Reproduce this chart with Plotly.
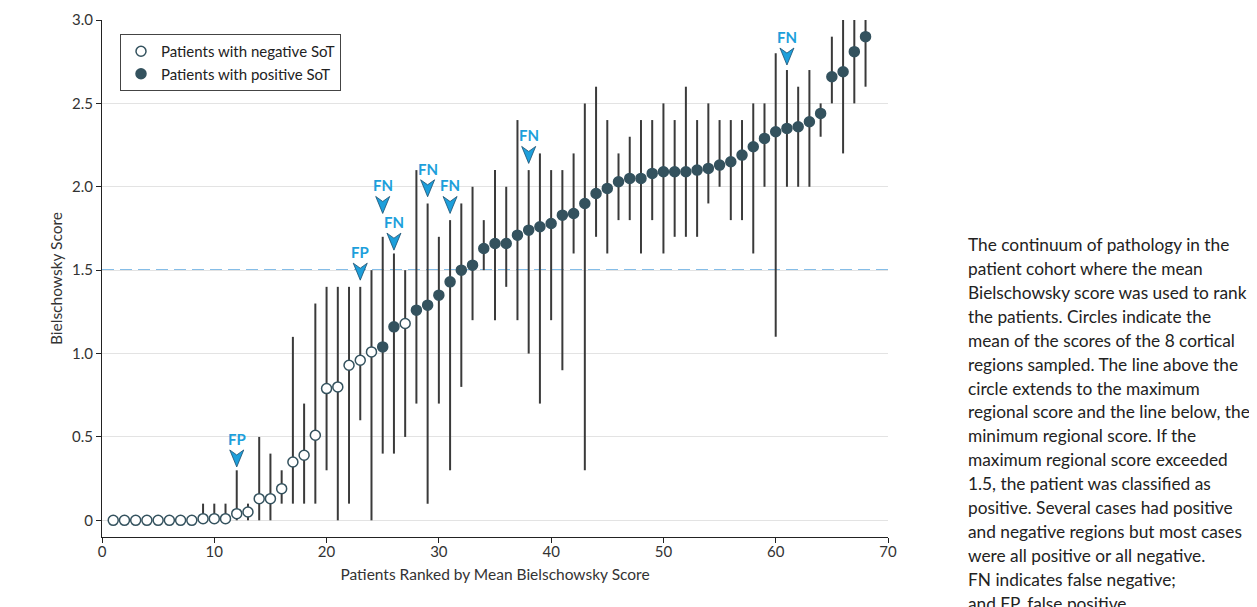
import plotly.graph_objects as go

# ---------------- data ----------------
patients = list(range(1, 69))
mean_score = [0, 0, 0, 0, 0, 0, 0, 0, 0.01, 0.01, 0.01, 0.04, 0.05, 0.13, 0.13, 0.19, 0.35, 0.39, 0.51, 0.79,
              0.80, 0.93, 0.96, 1.01, 1.04, 1.16, 1.18, 1.26, 1.29, 1.35,
              1.43, 1.50, 1.53, 1.63, 1.66, 1.66, 1.71, 1.74, 1.76, 1.78,
              1.83, 1.84, 1.90, 1.96, 1.99, 2.03, 2.05, 2.05, 2.08, 2.09,
              2.09, 2.09, 2.10, 2.11, 2.13, 2.15, 2.19, 2.24, 2.29, 2.33,
              2.35, 2.36, 2.39, 2.44, 2.66, 2.69, 2.81, 2.90]
max_score = [0, 0, 0, 0, 0, 0, 0, 0, 0.1, 0.1, 0.1, 0.3, 0.1, 0.5, 0.4, 0.3, 1.1, 0.7, 1.3, 1.4,
             1.4, 1.4, 1.4, 1.5, 1.7, 1.6, 1.5, 2.1, 1.9, 1.7,
             1.8, 1.9, 2.0, 1.8, 2.1, 2.0, 2.4, 2.1, 2.2, 2.1,
             2.1, 2.2, 2.5, 2.6, 2.4, 2.2, 2.3, 2.4, 2.4, 2.5,
             2.4, 2.6, 2.4, 2.5, 2.4, 2.4, 2.4, 2.5, 2.5, 2.8,
             2.7, 2.6, 2.7, 2.5, 2.9, 3.0, 3.0, 3.0]
min_score = [0, 0, 0, 0, 0, 0, 0, 0, 0, 0, 0, 0, 0, 0, 0, 0.1, 0.1, 0.1, 0.1, 0.3,
             0, 0.1, 0.6, 0, 0.4, 0.4, 0.5, 0.7, 0.1, 0.7,
             0.3, 0.8, 1.2, 1.5, 1.2, 1.4, 1.2, 1.0, 0.7, 1.2,
             0.9, 1.6, 0.3, 1.7, 1.6, 1.8, 1.8, 1.6, 1.8, 1.6,
             1.7, 1.7, 1.7, 1.9, 2.0, 1.8, 1.8, 1.6, 2.0, 1.1,
             2.0, 2.0, 2.0, 2.3, 2.5, 2.2, 2.5, 2.6]
sot = ["neg"] * 24 + ["pos", "pos", "neg"] + ["pos"] * 41

threshold = 1.5

flag_patients = [12, 23, 25, 26, 29, 31, 38, 61]
flag_labels = ["FP", "FP", "FN", "FN", "FN", "FN", "FN", "FN"]
flag_tip_y = [0.32, 1.44, 1.84, 1.62, 1.94, 1.84, 2.14, 2.73]

x_ticks = [0, 10, 20, 30, 40, 50, 60, 70]
y_ticks = [0, 0.5, 1.0, 1.5, 2.0, 2.5, 3.0]
y_ticktext = ["0", "0.5", "1.0", "1.5", "2.0", "2.5", "3.0"]

caption_lines = [
    "The continuum of pathology in the",
    "patient cohort where the mean",
    "Bielschowsky score was used to rank",
    "the patients. Circles indicate the",
    "mean of the scores of the 8 cortical",
    "regions sampled. The line above the",
    "circle extends to the maximum",
    "regional score and the line below, the",
    "minimum regional score. If the",
    "maximum regional score exceeded",
    "1.5, the patient was classified as",
    "positive. Several cases had positive",
    "and negative regions but most cases",
    "were all positive or all negative.",
    "FN indicates false negative;",
    "and FP, false positive.",
]

# ---------------- styles ----------------
DOT = "#34525e"
WHISKER = "#3a3a3a"
BLUE = "#1d9fdb"
FONT = "Lato"

# plot area in figure pixels
L, R, T, B = 94, 880, 12, 529
W, H = 1257, 607


def subset(group):
    idx = [i for i, s in enumerate(sot) if s == group]
    xs = [patients[i] for i in idx]
    ys = [mean_score[i] for i in idx]
    up = [max_score[i] - mean_score[i] for i in idx]
    dn = [mean_score[i] - min_score[i] for i in idx]
    return xs, ys, up, dn


fig = go.Figure()

for group, name, fill in [("neg", "Patients with negative SoT", "white"),
                          ("pos", "Patients with positive SoT", DOT)]:
    xs, ys, up, dn = subset(group)
    fig.add_trace(go.Scatter(
        x=xs, y=ys, mode="markers", name=name,
        marker=dict(size=10, color=fill, line=dict(color=DOT, width=1.5)),
        error_y=dict(type="data", symmetric=False, array=up, arrayminus=dn,
                     width=0, thickness=2, color=WHISKER),
        cliponaxis=True,
    ))

shapes = [dict(type="line", xref="x domain", yref="y", x0=0, x1=1, y0=threshold, y1=threshold,
               line=dict(color="#5ea8df", width=1.8, dash="12px,6px"), layer="below")]
annotations = []
for p, lab, ty in zip(flag_patients, flag_labels, flag_tip_y):
    shapes.append(dict(type="path", xref="x", yref="y", xsizemode="pixel", ysizemode="pixel",
                       xanchor=p, yanchor=ty,
                       path="M0,0 L7,17 L0,12 L-7,17 Z",
                       fillcolor=BLUE, line=dict(color="#1b4f70", width=0.8), layer="above"))
    annotations.append(dict(x=p, y=ty, xref="x", yref="y", text=lab, showarrow=False,
                            yshift=28, yanchor="middle",
                            font=dict(family=FONT, size=15, color=BLUE, weight="bold")))

caption = "<br>".join('<span style="font-size:17.3px">%s</span>' % ln for ln in caption_lines)
annotations.append(dict(x=(958 - L) / (R - L), y=(B - 224) / (B - T), xref="paper", yref="paper",
                        xanchor="left", yanchor="top", align="left", showarrow=False,
                        text=caption, font=dict(family=FONT, size=18.4, color="#222222")))

fig.update_layout(
    width=W, height=H,
    margin=dict(l=L, r=W - R, t=T, b=H - B, autoexpand=False),
    paper_bgcolor="white", plot_bgcolor="white",
    font=dict(family=FONT, size=14, color="#333333"),
    shapes=shapes, annotations=annotations,
    showlegend=True,
    legend=dict(x=(112 - L) / (R - L), y=(B - 26) / (B - T), xanchor="left", yanchor="top",
                bordercolor="#444444", borderwidth=1, bgcolor="white",
                font=dict(family=FONT, size=15, color="#222222")),
    xaxis=dict(range=[0, 70], tickvals=x_ticks, showgrid=False, zeroline=False, automargin=False,
               showline=True, linecolor="#222222", linewidth=1.2, ticks="outside", ticklen=5,
               tickcolor="#222222", tickfont=dict(size=15, color="#333333"),
               ticklabelstandoff=-4,
               title=dict(text="Patients Ranked by Mean Bielschowsky Score", font=dict(size=15.5),
                          standoff=10)),
    yaxis=dict(range=[-0.1, 3.0], tickvals=y_ticks, ticktext=y_ticktext, showgrid=True,
               gridcolor="#e3e3e3", gridwidth=1, zeroline=False, automargin=False,
               showline=True, linecolor="#222222", linewidth=1.2, ticks="outside", ticklen=5,
               tickcolor="#222222", tickfont=dict(size=15, color="#333333"),
               title=dict(text="Bielschowsky Score", font=dict(size=15.5), standoff=5)),
)

fig.write_html("out.html")
